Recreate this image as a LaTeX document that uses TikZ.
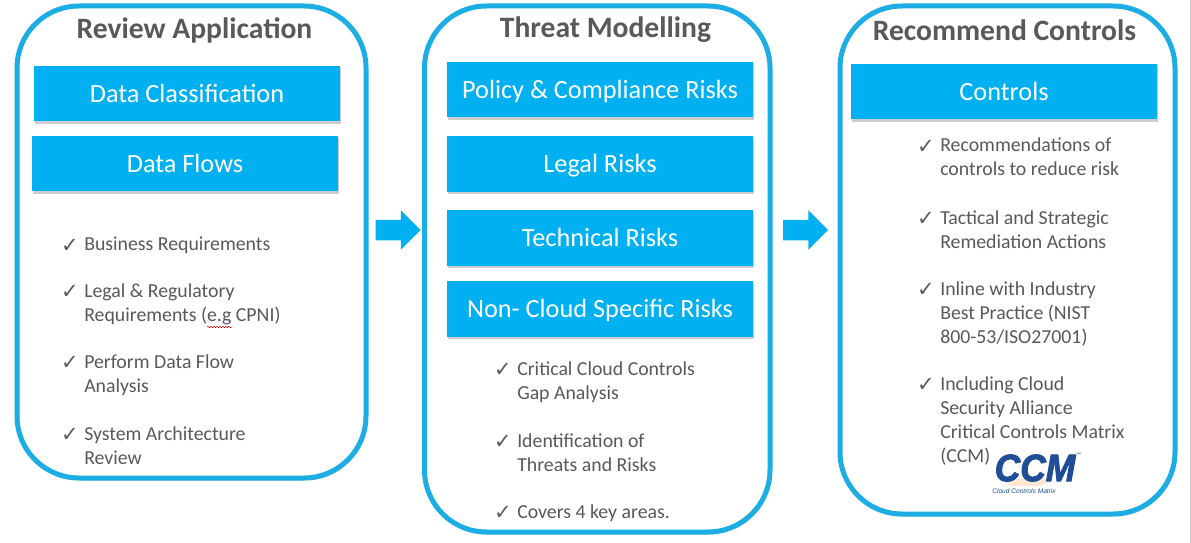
\documentclass[tikz,border=0pt]{standalone}
\usepackage{fontspec}
\setmainfont{Carlito}
\newfontfamily\checkfont{DejaVu Sans}
\newfontfamily\logofont[FakeStretch=0.93,FakeBold=2.5]{Liberation Sans}
\newfontfamily\logosmall{Liberation Sans}
\usepackage{xcolor}
\usetikzlibrary{arrows.meta,calc,decorations.pathmorphing,shadows,shapes.arrows}
\definecolor{panelblue}{HTML}{1CADE4}
\definecolor{boxblue}{HTML}{00B0F0}
\definecolor{textgray}{HTML}{595959}
\definecolor{logoblue}{HTML}{1F4E96}
\tikzset{
  panel/.style={draw=panelblue,line width=5pt,fill=white,rounded corners=62pt,drop shadow={shadow xshift=1.5pt,shadow yshift=-2.5pt,opacity=0.35}},
  riskbox/.style={fill=boxblue,text=white,font=\fontsize{26.3}{30}\selectfont,minimum width=306pt,minimum height=55.5pt,inner sep=0pt,text height=20pt,text depth=3pt,drop shadow={shadow xshift=0.5pt,shadow yshift=-2.5pt,opacity=0.4}},
  heading/.style={anchor=base,text=textgray,font=\fontsize{29.6}{34}\selectfont\bfseries,inner sep=0pt},
  itemtext/.style={anchor=north west,align=left,text=textgray,inner sep=0pt,font=\fontsize{19.8}{24}\selectfont,
    label={[text=textgray,inner sep=0pt,font=\fontsize{21}{24}\checkfont,anchor=base east,xshift=-5pt,yshift=-15pt]north west:✓}},
  flowarrow/.style={single arrow,fill=boxblue,draw=none,inner sep=0pt,minimum height=45pt,text height=20pt,text depth=0pt,text width=0pt,minimum width=39pt,single arrow head extend=9.5pt,single arrow tip angle=90},
}
\begin{document}
\begin{tikzpicture}[x=1pt,y=-1pt,line width=0.5pt]
  \useasboundingbox (0,0) rectangle (1191,543);
  \fill[white] (0,0) rectangle (1191,543);
  \draw[black!20,line width=1pt] (1190.5,0) -- (1190.5,543);

  \draw[panel] (17,6) rectangle (366,478);
  \draw[panel] (424.5,6) rectangle (770,532);
  \draw[panel] (840,6) rectangle (1175,514);

  \node[heading] (titlereview) at (194.5,38.5) {Review Application};
  \node[heading] (titlethreat) at (605.5,38) {Threat Modelling};
  \node[heading] (titlecontrols) at (1004.5,41) {Recommend Controls};

  \node[riskbox] (classification) at (187,93.5) {Data Classification};
  \node[riskbox] (flows) at (185,163.5) {Data Flows};
  \node[riskbox] (policy) at (600,89.5) {Policy \& Compliance Risks};
  \node[riskbox] (legal) at (600,164) {Legal Risks};
  \node[riskbox] (technical) at (600,238) {Technical Risks};
  \node[riskbox] (noncloud) at (600,309) {Non- Cloud Specific Risks};
  \node[riskbox] (controls) at (1004,91.5) {Controls};

  \node[itemtext] (business) at (84,237) {Business Requirements};
  \node[itemtext] (regulatory) at (84,283.5) {Legal \& Regulatory\\Requirements (e.g CPNI)};
  \node[itemtext] (dataflow) at (84,354.5) {Perform Data Flow\\Analysis};
  \node[itemtext] (architecture) at (84,426.5) {System Architecture\\Review};
  \draw[red!80!black,line width=0.5pt,decorate,decoration={snake,amplitude=0.7pt,segment length=3pt}] ($(regulatory.north west)+(123,43.5)$) -- ++(25,0);

  \node[itemtext] (gap) at (517,361.5) {Critical Cloud Controls\\Gap Analysis};
  \node[itemtext] (threats) at (517,433) {Identification of\\Threats and Risks};
  \node[itemtext] (areas) at (517,504) {Covers 4 key areas.};

  \node[itemtext] (reduce) at (940,138) {Recommendations of\\controls to reduce risk};
  \node[itemtext] (tactical) at (940,210) {Tactical and Strategic\\Remediation Actions};
  \node[itemtext] (inline) at (940,281) {Inline with Industry\\Best Practice (NIST\\800-53/ISO27001)};
  \node[itemtext] (alliance) at (940,376) {Including Cloud\\Security Alliance\\Critical Controls Matrix\\(CCM)};

  \fill[orange!18] (1002,479) -- (1050,479) -- (1042,486) -- (1010,486) -- cycle;
  \node[inner sep=0pt,text=logoblue,font=\fontsize{38}{38}\logofont\bfseries\itshape] (logomark) at (1035,468) {CCM};
  \node[inner sep=0pt,text=logoblue,font=\fontsize{6.6}{8}\logosmall\itshape] (logoname) at (1024,491.5) {Cloud Controls Matrix};
  \node[inner sep=0pt,text=logoblue,font=\fontsize{5}{6}\logosmall] (logotm) at (1078.5,455) {™};

  \node[flowarrow] (arrowreview) at (393,230) {};
  \node[flowarrow] (arrowthreat) at (800.5,230) {};
\end{tikzpicture}
\end{document}
